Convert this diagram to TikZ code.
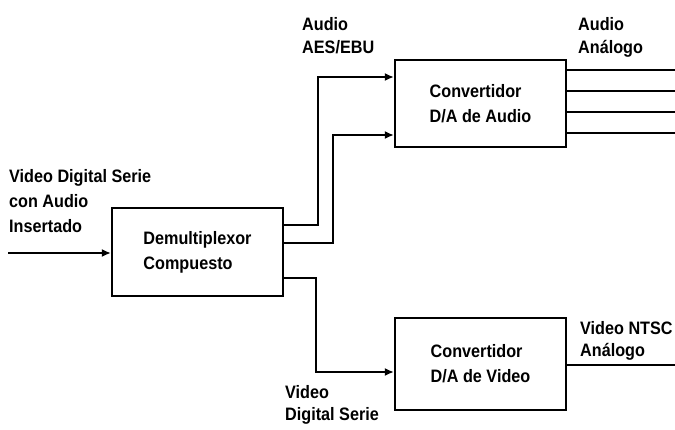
\documentclass[tikz,border=0pt]{standalone}
\usepackage{fontspec}
\newfontfamily\lblfont{Liberation Sans Bold}[FakeStretch=0.9]
\usetikzlibrary{arrows.meta}
\begin{document}
\begin{tikzpicture}[x=1pt,y=-1pt,
  txt/.style={font=\lblfont\fontsize{18}{25}\selectfont, inner sep=0pt, anchor=base west},
  blk/.style={draw, line width=2.2pt, font=\lblfont\fontsize{18}{25}\selectfont, align=left, inner sep=0pt},
  wire/.style={line width=2.2pt},
  arr/.style={wire, -{Latex[length=9pt,width=8pt]}}
]
\useasboundingbox (0,0) rectangle (675,429);
% blocks
\node[blk, minimum width=171pt, minimum height=88pt] (demux) at (197.5,252) {Demultiplexor\\Compuesto};
\node[blk, minimum width=171pt, minimum height=87pt] (aud) at (480.5,103.5) {Convertidor\\D/A de Audio};
\node[blk, minimum width=171pt, minimum height=92pt] (vid) at (480.5,364) {Convertidor\\D/A de Video};
% free ends
\coordinate (in) at (8,253);
\coordinate (o1) at (675,70);
\coordinate (o2) at (675,91);
\coordinate (o3) at (675,112);
\coordinate (o4) at (675,133);
\coordinate (vo) at (675,365);
% connectors
\draw[arr] (in) -- (in -| demux.west);
\draw[arr] ([yshift=27pt]demux.east) -- ++(34pt,0) |- ([yshift=26.5pt]aud.west);
\draw[arr] ([yshift=9pt]demux.east) -- ++(49pt,0) |- ([yshift=-31.5pt]aud.west);
\draw[arr] ([yshift=-26pt]demux.east) -- ++(32pt,0) |- ([yshift=-8pt]vid.west);
\draw[wire] (o1 -| aud.east) -- (o1);
\draw[wire] (o2 -| aud.east) -- (o2);
\draw[wire] (o3 -| aud.east) -- (o3);
\draw[wire] (o4 -| aud.east) -- (o4);
\draw[wire] (vo -| vid.east) -- (vo);
% labels
\node[txt] (l1) at (9,182) {Video Digital Serie};
\node[txt] (l2) at (9,207) {con Audio};
\node[txt] (l3) at (9,232) {Insertado};
\node[txt] (l4) at (302,30) {Audio};
\node[txt] (l5) at (302,53) {AES/EBU};
\node[txt] (l6) at (578,30) {Audio};
\node[txt] (l7) at (578,53) {Análogo};
\node[txt] (l8) at (580,334) {Video NTSC};
\node[txt] (l9) at (580,356) {Análogo};
\node[txt] (l10) at (285,398) {Video};
\node[txt] (l11) at (285,420) {Digital Serie};
\end{tikzpicture}
\end{document}
